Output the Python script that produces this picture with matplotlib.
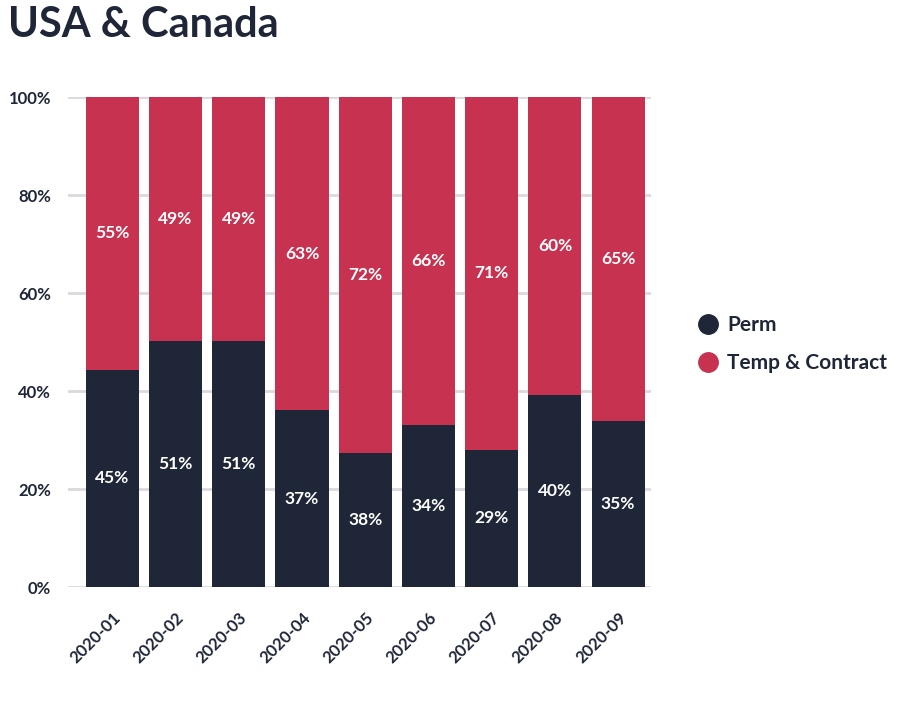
import matplotlib.pyplot as plt
from matplotlib.lines import Line2D

months = ['2020-01', '2020-02', '2020-03', '2020-04', '2020-05',
          '2020-06', '2020-07', '2020-08', '2020-09']
perm = [44.3, 50.2, 50.2, 36.1, 27.3, 33.0, 28.0, 39.1, 33.9]
temp = [55.7, 49.8, 49.8, 63.9, 72.7, 67.0, 72.0, 60.9, 66.1]
perm_labels = ['45%', '51%', '51%', '37%', '38%', '34%', '29%', '40%', '35%']
temp_labels = ['55%', '49%', '49%', '63%', '72%', '66%', '71%', '60%', '65%']

dark = '#1e2637'
red = '#c63250'

plt.rcParams['font.family'] = ['Lato', 'DejaVu Sans']

fig = plt.figure(figsize=(9.05, 7.05), dpi=100)
ax = fig.add_axes([68 / 905, 118 / 705, (651 - 68) / 905, 490 / 705])

x = range(len(months))
ax.bar(x, perm, width=0.84, color=dark, zorder=3)
ax.bar(x, temp, bottom=perm, width=0.84, color=red, zorder=3)

for i in x:
    ax.text(i, perm[i] / 2, perm_labels[i], ha='center', va='center',
            color='white', fontsize=12.5, fontweight='bold', zorder=4)
    ax.text(i, perm[i] + temp[i] / 2, temp_labels[i], ha='center', va='center',
            color='white', fontsize=12.5, fontweight='bold', zorder=4)

ax.set_xlim(-0.70, 8.52)
ax.set_ylim(0, 100)
ax.set_yticks([0, 20, 40, 60, 80, 100])
ax.set_yticklabels([f'{v}%' for v in range(0, 101, 20)])
ax.set_xticks(list(x))
ax.set_xticklabels(months, rotation=45, ha='right', rotation_mode='anchor')
ax.tick_params(axis='both', length=0, labelsize=12, labelcolor=dark)
ax.tick_params(axis='y', pad=12)
ax.tick_params(axis='x', pad=16)
for lab in ax.get_xticklabels() + ax.get_yticklabels():
    lab.set_fontweight('bold')

ax.grid(axis='y', color='#d9d9de', linewidth=2, zorder=0)
for s in ax.spines.values():
    s.set_visible(False)

fig.text(8 / 905, 1 - 37 / 705, 'USA & Canada', fontsize=30, fontweight='bold',
         color=dark, va='baseline')

handles = [Line2D([], [], marker='o', linestyle='', markersize=14, color=dark),
           Line2D([], [], marker='o', linestyle='', markersize=14, color=red)]
leg = fig.legend(handles, ['Perm', 'Temp & Contract'], loc='center left',
                 bbox_to_anchor=(677 / 905, 1 - 344 / 705), frameon=False,
                 handletextpad=0.3, labelspacing=0.85, handlelength=1.2,
                 prop={'size': 15, 'weight': 'bold'})
for t in leg.get_texts():
    t.set_color(dark)

plt.savefig('out.png', dpi=100)
